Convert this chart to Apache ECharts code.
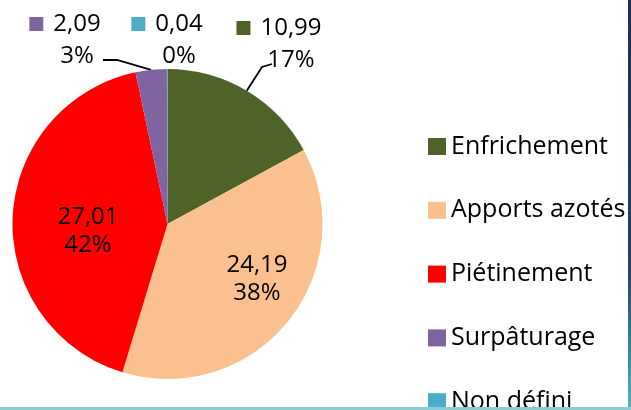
<!DOCTYPE html>
<html>
<head>
<meta charset="utf-8">
<script src="https://cdn.jsdelivr.net/npm/echarts@6/dist/echarts.min.js"></script>
<style>
html, body { margin: 0; padding: 0; background: #fff; }
#pie { width: 631px; height: 410px; }
</style>
</head>
<body>
<div id="pie"></div>
<script>
var categories = ['Enfrichement', 'Apports azotés', 'Piétinement', 'Surpâturage', 'Non défini'];
var values = [10.99, 24.19, 27.01, 2.09, 0.04];
var colors = ['#4F6228', '#FAC090', '#FF0000', '#8064A2', '#4BACC6'];

// centre of each data label block, as Excel placed them
var labelPos = [[279, 44], [257, 279], [88, 231], [65, 40], [167, 40]];
var labelOutside = [true, false, false, true, true];
// leader lines: bend point and end point (null = no leader)
var leaderEnds = [[[262, 67], [272, 64]], null, null, [[117, 60], [103, 60]], null];

var cx = 167.5, cy = 224, R = 155;

function fmtNum(v) {
    return v.toFixed(2).replace('.', ',');
}

// point on the outer arc at the middle of slice i
function arcMid(i) {
    var total = values.reduce(function (a, b) { return a + b; }, 0);
    var before = 0;
    for (var k = 0; k < i; k++) before += values[k];
    var ang = (before + values[i] / 2) / total * Math.PI * 2;
    return [cx + R * Math.sin(ang), cy - R * Math.cos(ang)];
}

let myChart = echarts.init(document.getElementById('pie'));

var rich = {
    v: { fontSize: 24, lineHeight: 32, color: '#000' },
    p: { fontSize: 24, lineHeight: 32, color: '#000' },
    vi: { fontSize: 24, lineHeight: 28, color: '#000' },
    sp: { width: 10, height: 14 },
    gap: { width: 24, height: 14 }
};
colors.forEach(function (c, i) {
    rich['sq' + i] = { width: 14, height: 14, backgroundColor: c };
});

var pieData = categories.map(function (name, i) {
    return {
        name: name,
        value: values[i],
        label: { position: labelOutside[i] ? 'outside' : 'inside' },
        labelLine: { show: leaderEnds[i] != null }
    };
});

option = {
    animation: false,
    color: colors,
    legend: {
        orient: 'vertical',
        left: 423,
        top: 129,
        height: 320,
        icon: 'rect',
        itemWidth: 18,
        itemHeight: 17,
        itemGap: 38.8,
        textStyle: {
            fontFamily: 'Open Sans',
            fontSize: 25,
            lineHeight: 25,
            color: '#000'
        },
        data: categories
    },
    series: [
        {
            type: 'pie',
            center: [cx, cy],
            radius: R,
            startAngle: 90,
            clockwise: true,
            avoidLabelOverlap: false,
            itemStyle: { borderWidth: 0 },
            label: {
                fontFamily: 'Open Sans',
                align: 'center',
                formatter: function (params) {
                    var i = params.dataIndex;
                    var pct = Math.round(params.percent) + '%';
                    if (labelOutside[i]) {
                        return '{sq' + i + '|}{sp|}{v|' + fmtNum(params.value) + '}\n{gap|}{p|' + pct + '}';
                    }
                    return '{vi|' + fmtNum(params.value) + '}\n{vi|' + pct + '}';
                },
                rich: rich
            },
            labelLine: {
                show: true,
                smooth: false,
                lineStyle: { color: '#000', width: 1.8 }
            },
            labelLayout: function (params) {
                var i = params.dataIndex;
                var p = labelPos[i];
                var res = { x: p[0], y: p[1], align: 'center', verticalAlign: 'middle' };
                if (leaderEnds[i]) {
                    res.labelLinePoints = [arcMid(i), leaderEnds[i][0], leaderEnds[i][1]];
                }
                return res;
            },
            emphasis: { disabled: true },
            data: pieData
        }
    ],
    graphic: [
        {
            type: 'rect',
            z: 100,
            shape: { x: 628, y: 0, width: 3, height: 410 },
            style: {
                fill: new echarts.graphic.LinearGradient(0, 0, 0, 1, [
                    { offset: 0, color: '#1E2C5C' },
                    { offset: 0.65, color: '#23406E' },
                    { offset: 1, color: '#4FB3C8' }
                ])
            }
        },
        {
            type: 'rect',
            z: 100,
            shape: { x: 0, y: 407, width: 631, height: 3 },
            style: { fill: '#8ECBD9' }
        }
    ]
};
myChart.setOption(option);
</script>
</body>
</html>
